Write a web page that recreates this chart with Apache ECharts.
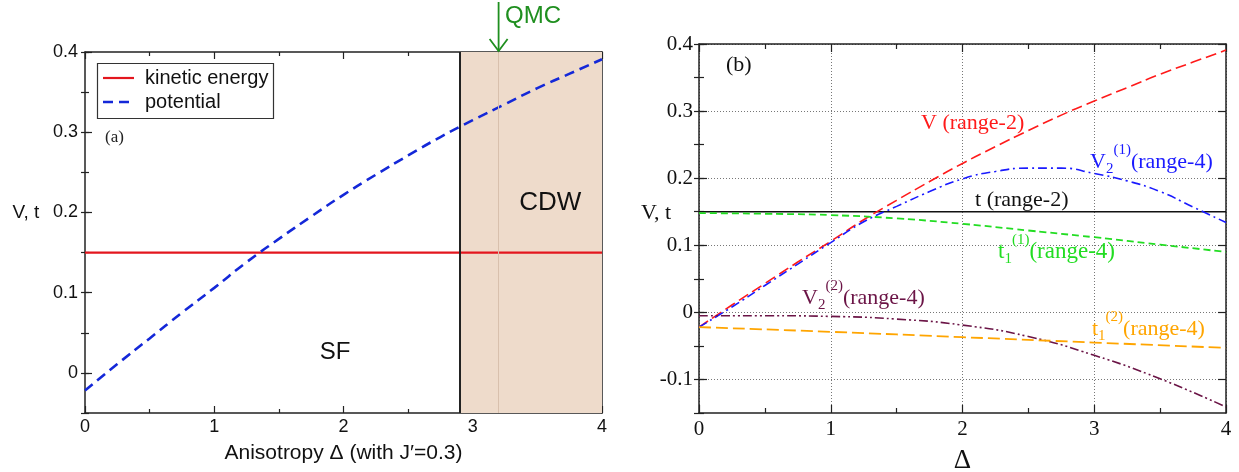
<!DOCTYPE html>
<html><head><meta charset="utf-8">
<script src="https://cdn.jsdelivr.net/npm/echarts@6/dist/echarts.min.js"></script>
<style>html,body{margin:0;padding:0;background:#fff}#c{width:1239px;height:472px}</style>
</head><body><div id="c"></div>
<script>
// ---------- data ----------
const deltaFine = [0,0.25,0.5,0.75,1,1.25,1.5,1.75,2,2.25,2.5,2.75,3,3.25,3.5,3.75,4];
const potential = [-0.022,0.011,0.043,0.075,0.106,0.138,0.167,0.195,0.222,0.247,0.271,0.294,0.315,0.335,0.355,0.373,0.391];
const V2first = [-0.022,0.008,0.040,0.072,0.104,0.135,0.158,0.180,0.199,0.210,0.215,0.215,0.207,0.196,0.180,0.157,0.134];
const deltaCoarse = [0,0.5,1,1.5,2,2.5,3,3.5,4];
const t1first = [0.148,0.147,0.145,0.140,0.132,0.122,0.112,0.101,0.090];
const V2second = [-0.005,-0.005,-0.006,-0.010,-0.019,-0.036,-0.064,-0.099,-0.141];
const deltaUnit = [0,1,2,3,4];
const t1second = [-0.022,-0.029,-0.037,-0.045,-0.053];
const deltaEnds = [0,4];
const kinetic = [0.15,0.15];
const yTicksLeft = [0,0.1,0.2,0.3,0.4];
const yTicksRight = [-0.1,0,0.1,0.2,0.3,0.4];
const legendNames = ['kinetic energy','potential'];
const cdwStart = 2.9, cdwEnd = 4, qmcDelta = 3.2;

const zip = (xs, ys) => xs.map((x,i)=>[x, ys[i]]);
const fmt = v => String(+(+v).toFixed(2));

const SANS = 'Liberation Sans', SERIF = 'Liberation Serif';
const RED_L = '#e3161e', BLUE_L = '#1428d8';

function xAxes(grid, pos, showLabel, fontFam, fontSize, major, minor, splitLine, name, nameGap, nameSize, margin) {
  return {
    type:'value', gridIndex:grid, position:pos, min:0, max:4, interval:1,
    axisLine:{show:true, onZero:false, lineStyle:{color:'#222', width:1.5}},
    axisTick:{show:true, inside:true, length:major, lineStyle:{color:'#222', width:1.2}},
    minorTick:{show:true, splitNumber:2, length:minor, lineStyle:{color:'#222', width:1.2}},
    axisLabel:{show:showLabel, fontFamily:fontFam, fontSize:fontSize, color:'#111', margin:margin||7, formatter:fmt},
    splitLine:{show:splitLine, lineStyle:{color:'#777', type:[1,2], width:1}},
    name: name||'', nameLocation:'middle', nameGap:nameGap||0,
    nameTextStyle:{fontFamily:fontFam, fontSize:nameSize||18, color:'#111'}
  };
}
function yMajor(grid, pos, min, ticks, showLabel, fontFam, fontSize, len, split, margin) {
  return {
    type:'value', gridIndex:grid, position:pos, min:min, max:0.4, interval:0.05,
    axisLine:{show:true, onZero:false, lineStyle:{color:'#222', width:1.5}},
    axisTick:{show:true, inside:true, length:len, customValues:ticks, lineStyle:{color:'#222', width:1.2}},
    axisLabel:{show:showLabel, customValues:ticks, fontFamily:fontFam, fontSize:fontSize, color:'#111', margin:margin||7, formatter:fmt},
    splitLine:{show:split, lineStyle:{color:'#777', type:[1,2], width:1}}
  };
}
function yMinor(grid, pos, min, len) {
  return {
    type:'value', gridIndex:grid, position:pos, offset:0, min:min, max:0.4, interval:0.05,
    axisLine:{show:false},
    axisTick:{show:true, inside:true, length:len, lineStyle:{color:'#222', width:1.2}},
    axisLabel:{show:false}, splitLine:{show:false}
  };
}

const chart = echarts.init(document.getElementById('c'), null, {renderer:'canvas'});
const option = {
  animation:false,
  backgroundColor:'#fff',
  grid:[
    {left:85, top:52, width:517, height:361, outerBoundsMode:'none', containLabel:false},
    {left:699, top:44, width:527, height:369, outerBoundsMode:'none', containLabel:false}
  ],
  xAxis:[
    xAxes(0,'bottom',true,SANS,18,7,4,false,'Anisotropy \u0394 (with J\u2032=0.3)',30,21,5),
    xAxes(0,'top',false,SANS,18,7,4,false),
    xAxes(1,'bottom',true,SERIF,21,8,5,true,'\u0394',34,27,6),
    xAxes(1,'top',false,SERIF,21,8,5,false)
  ],
  yAxis:[
    yMajor(0,'left',-0.05,yTicksLeft,true,SANS,18,7,false,7),
    yMinor(0,'left',-0.05,4),
    yMajor(0,'right',-0.05,yTicksLeft,false,SANS,18,7,false),
    yMinor(0,'right',-0.05,4),
    yMajor(1,'left',-0.15,yTicksRight,true,SERIF,21,8,true,6),
    yMinor(1,'left',-0.15,5),
    yMajor(1,'right',-0.15,yTicksRight,false,SERIF,21,8,false),
    yMinor(1,'right',-0.15,5)
  ],
  series:[
    { name:'region', type:'line', xAxisIndex:0, yAxisIndex:0, data:[], z:1, silent:true,
      markArea:{silent:true, itemStyle:{color:'#eedbcb'}, data:[[{xAxis:cdwStart},{xAxis:cdwEnd}]]},
      markLine:{silent:true, symbol:'none', label:{show:false},
        data:[
          {xAxis:qmcDelta, lineStyle:{color:'#d8c0ad', width:1, type:'solid'}},
          {xAxis:cdwStart, lineStyle:{color:'#222', width:2, type:'solid'}}
        ]}
    },
    { name:legendNames[0], type:'line', xAxisIndex:0, yAxisIndex:0, data:zip(deltaEnds,kinetic),
      showSymbol:false, symbol:'none', z:3, lineStyle:{color:RED_L, width:2.2} },
    { name:legendNames[1], type:'line', xAxisIndex:0, yAxisIndex:0, data:zip(deltaFine,potential), smooth:true,
      showSymbol:false, symbol:'none', z:4, lineStyle:{color:BLUE_L, width:2.6, type:[10,6]} },

    { name:'t (range-2)', type:'line', xAxisIndex:2, yAxisIndex:4, data:zip(deltaEnds,kinetic),
      symbol:'none', z:3, lineStyle:{color:'#111', width:1.6} },
    { name:'V (range-2)', type:'line', xAxisIndex:2, yAxisIndex:4, data:zip(deltaFine,potential), smooth:true,
      symbol:'none', z:4, lineStyle:{color:'#ff1a1a', width:1.6, type:[11,5]} },
    { name:'V2(1)', type:'line', xAxisIndex:2, yAxisIndex:4, data:zip(deltaFine,V2first), smooth:true,
      symbol:'none', z:4, lineStyle:{color:'#1a1aff', width:1.6, type:[9,4,2,4]} },
    { name:'t1(1)', type:'line', xAxisIndex:2, yAxisIndex:4, data:zip(deltaCoarse,t1first), smooth:true,
      symbol:'none', z:4, lineStyle:{color:'#22dd22', width:1.8, type:[7,4]} },
    { name:'V2(2)', type:'line', xAxisIndex:2, yAxisIndex:4, data:zip(deltaCoarse,V2second), smooth:true,
      symbol:'none', z:4, lineStyle:{color:'#6b1446', width:1.6, type:[9,3,2,3,2,3]} },
    { name:'t1(2)', type:'line', xAxisIndex:2, yAxisIndex:4, data:zip(deltaUnit,t1second), smooth:true,
      symbol:'none', z:4, lineStyle:{color:'#ffa500', width:1.8, type:[12,5]} }
  ]
};
chart.setOption(option);

// ---------- annotations (anchored in data coordinates) ----------
const mctx = document.createElement('canvas').getContext('2d');
function measure(t, size, fam){ mctx.font = size+'px "'+fam+'"'; return mctx.measureText(t).width; }
const L = {xAxisIndex:0, yAxisIndex:0}, R = {xAxisIndex:2, yAxisIndex:4};
const annotations = [
  {c:L, x:0.155, y:0.294, color:'#222', fam:SERIF, align:'left', parts:[['(a)',17,0]]},
  {c:L, x:1.934, y:0.026, color:'#111', fam:SANS, align:'center', parts:[['SF',24,0]]},
  {c:L, x:3.60, y:0.212, color:'#111', fam:SANS, align:'center', parts:[['CDW',26,0]]},
  {c:L, x:3.25, y:0.444, color:'#1f8f1f', fam:SANS, align:'left', parts:[['QMC',24,0]]},
  {c:R, x:0.205, y:0.369, color:'#111', fam:SERIF, align:'left', parts:[['(b)',22,0]]},
  {c:R, x:1.685, y:0.282, color:'#ff1a1a', fam:SERIF, align:'left', parts:[['V (range-2)',22,0]]},
  {c:R, x:2.968, y:0.224, color:'#1a1aff', fam:SERIF, align:'left', parts:[['V',22,0],['2',15,7],['(1)',15,-12],['(range-4)',22,0]]},
  {c:R, x:2.095, y:0.1675, color:'#111', fam:SERIF, align:'left', parts:[['t (range-2)',22,0]]},
  {c:R, x:2.27, y:0.090, color:'#22dd22', fam:SERIF, align:'left', parts:[['t',23,0],['1',15,7],['(1)',15,-12],['(range-4)',23,0]]},
  {c:R, x:0.782, y:0.0214, color:'#6b1446', fam:SERIF, align:'left', parts:[['V',22,0],['2',15,7],['(2)',15,-12],['(range-4)',22,0]]},
  {c:R, x:2.983, y:-0.0248, color:'#ffa500', fam:SERIF, align:'left', parts:[['t',22,0],['1',15,7],['(2)',15,-12],['(range-4)',22,0]]}
];
const graphic = [];
annotations.forEach(a => {
  const p = chart.convertToPixel(a.c, [a.x, a.y]);
  let x = p[0];
  a.parts.forEach(part => {
    graphic.push({type:'text', x:x, y:p[1]+part[2], z:10, silent:true,
      style:{text:part[0], fontFamily:a.fam, fontSize:part[1], fill:a.color, align:a.align, verticalAlign:'middle'}});
    x += measure(part[0], part[1], a.fam);
  });
});
// y-axis titles
graphic.push({type:'text', x:26, y:213, style:{text:'V, t', fontFamily:SANS, fontSize:19, fill:'#111', align:'center', verticalAlign:'middle'}});
graphic.push({type:'text', x:656, y:213, style:{text:'V, t', fontFamily:SERIF, fontSize:22, fill:'#111', align:'center', verticalAlign:'middle'}});
// legend box for panel (a)
graphic.push({type:'rect', z:20, shape:{x:97.5, y:63.5, width:176, height:55}, style:{fill:'#fff', stroke:'#333', lineWidth:1.2}});
graphic.push({type:'line', z:21, shape:{x1:103, y1:78, x2:134, y2:78}, style:{stroke:RED_L, lineWidth:2.2}});
graphic.push({type:'line', z:21, shape:{x1:103, y1:102, x2:134, y2:102}, style:{stroke:BLUE_L, lineWidth:2.6, lineDash:[10,6]}});
graphic.push({type:'text', z:21, x:145, y:78, style:{text:legendNames[0], fontFamily:SANS, fontSize:20, fill:'#111', verticalAlign:'middle'}});
graphic.push({type:'text', z:21, x:145, y:102, style:{text:legendNames[1], fontFamily:SANS, fontSize:20, fill:'#111', verticalAlign:'middle'}});
// QMC arrow
const qmcTop = chart.convertToPixel(L, [qmcDelta, 0.4]);
graphic.push({type:'line', z:10, shape:{x1:qmcTop[0], y1:2, x2:qmcTop[0], y2:qmcTop[1]-1}, style:{stroke:'#1f8f1f', lineWidth:1.8}});
graphic.push({type:'polyline', z:10, shape:{points:[[qmcTop[0]-9, qmcTop[1]-13],[qmcTop[0], qmcTop[1]-1],[qmcTop[0]+9, qmcTop[1]-13]]}, style:{stroke:'#1f8f1f', lineWidth:1.8, fill:null}});
chart.setOption({graphic:graphic});
</script>
</body></html>
